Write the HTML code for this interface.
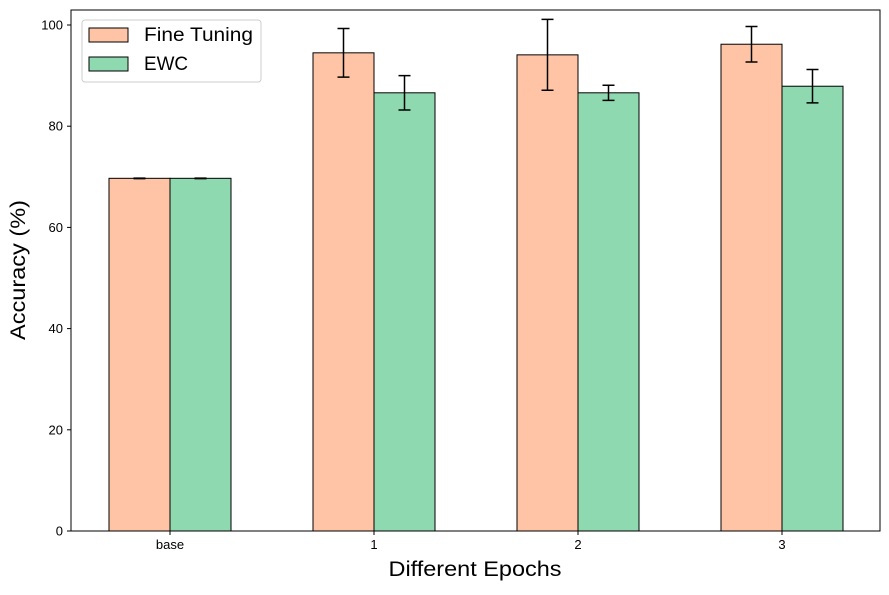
<!DOCTYPE html>
<html><head><meta charset="utf-8"><style>
body{margin:0;background:#fff;font-family:"Liberation Sans",sans-serif}
svg text{font-family:"Liberation Sans",sans-serif}
</style></head><body>
<svg id="chart" width="889" height="590">
<g id="plot"></g>
</svg>
<script>
const categories=["base","1","2","3"];
const fineTuning=[69.7,94.5,94.1,96.2];
const fineTuningErr=[0.05,4.8,7.0,3.5];
const ewc=[69.7,86.6,86.6,87.9];
const ewcErr=[0.05,3.4,1.5,3.3];
const yTicks=[0,20,40,60,80,100];

const L=71,R=880,T=10,B=531;
const y=v=>531-v*5.06;
const xc=i=>170+i*204;
const bw=61;
const NS="http://www.w3.org/2000/svg";
const g=document.getElementById('plot');
function mk(t,a,p){const e=document.createElementNS(NS,t);for(const k in a)e.setAttribute(k,a[k]);(p||g).appendChild(e);return e;}

const frame=mk('rect',{x:L,y:T,width:R-L,height:B-T,fill:'none',stroke:'#000','stroke-width':1});



yTicks.forEach(v=>{
  const tk=mk('line',{x1:L-4,x2:L,y1:y(v),y2:y(v),stroke:'#000'});
  
  
  const t=mk('text',{x:L-8,y:y(v)+4.5,'text-anchor':'end','font-size':13});
  t.textContent=v;
  
  
});

function drawSeries(vals,errs,off,color,name){
  vals.forEach((v,i)=>{
    const x0=xc(i)+off;
    const r=mk('rect',{x:x0,y:y(v),width:bw,height:y(0)-y(v),fill:color,stroke:'#000','stroke-width':1});
    
    
    const cx=x0+bw/2,hi=y(v+errs[i]),lo=y(v-errs[i]);
    const e=mk('path',{d:`M${cx},${hi}V${lo}M${cx-6},${hi}H${cx+6}M${cx-6},${lo}H${cx+6}`,stroke:'#000','stroke-width':1.5,fill:'none'});
    
    
  });
}
drawSeries(fineTuning,fineTuningErr,-bw,'#ffc4a5','fine-tuning');
drawSeries(ewc,ewcErr,0,'#8fd9b1','ewc');

categories.forEach((c,i)=>{
  const tk=mk('line',{x1:xc(i),x2:xc(i),y1:B,y2:B+4,stroke:'#000'});
  
  
  const t=mk('text',{x:xc(i),y:B+18,'text-anchor':'middle','font-size':13});
  t.textContent=c;
  
  
});

const xt=mk('text',{x:475,y:576,'text-anchor':'middle','font-size':21,textLength:173,lengthAdjust:'spacingAndGlyphs'});
xt.textContent='Different Epochs';


const yt=mk('text',{x:0,y:0,'text-anchor':'middle','font-size':21,textLength:140,lengthAdjust:'spacingAndGlyphs',transform:'translate(25,270) rotate(-90)'});
yt.textContent='Accuracy (%)';



const lg=mk('g',{});


mk('rect',{x:82,y:20,width:179,height:62,rx:3,fill:'#fff',stroke:'#ccc'},lg);
[['Fine Tuning','#ffc4a5',35,109],['EWC','#8fd9b1',64,44]].forEach(([n,c,yy,w])=>{
  const s=mk('rect',{x:89,y:yy-7,width:39,height:14,fill:c,stroke:'#000'},lg);
  
  
  const t=mk('text',{x:144,y:yy+6,'font-size':19,textLength:w,lengthAdjust:'spacingAndGlyphs'},lg);
  t.textContent=n;
  
  
});
</script>
</body></html>
